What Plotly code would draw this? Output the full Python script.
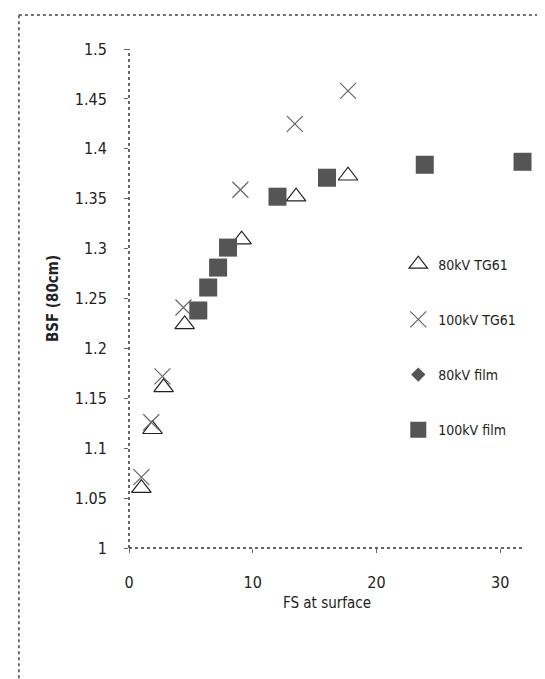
import plotly.graph_objects as go

# Data
tg61_80_x = [1.0, 1.9, 2.8, 4.5, 9.1, 13.5, 17.7]
tg61_80_y = [1.060, 1.119, 1.161, 1.224, 1.309, 1.352, 1.373]

tg61_100_x = [1.0, 1.8, 2.7, 4.4, 9.0, 13.4, 17.7]
tg61_100_y = [1.071, 1.126, 1.172, 1.241, 1.359, 1.425, 1.458]

film_80_x = [5.6, 6.4, 7.2, 8.0]
film_80_y = [1.238, 1.260, 1.280, 1.300]

film_100_x = [5.6, 6.4, 7.2, 8.0, 12.0, 16.0, 23.9, 31.8]
film_100_y = [1.238, 1.261, 1.281, 1.301, 1.352, 1.371, 1.384, 1.387]

x_ticks = [0, 10, 20, 30]
y_ticks = [1, 1.05, 1.1, 1.15, 1.2, 1.25, 1.3, 1.35, 1.4, 1.45, 1.5]
y_ticktext = ["1", "1.05", "1.1", "1.15", "1.2", "1.25", "1.3", "1.35", "1.4", "1.45", "1.5"]

FONT = "DejaVu Sans Condensed, Liberation Sans Narrow, DejaVu Sans, sans-serif"

fig = go.Figure()
fig.add_trace(go.Scatter(
    x=tg61_80_x, y=tg61_80_y, mode="markers", name="80kV TG61",
    legendgroup="a", cliponaxis=False,
    marker=dict(symbol="triangle-up-open", size=17, color="#222222",
                line=dict(width=1.2, color="#222222"))))
fig.add_trace(go.Scatter(
    x=tg61_100_x, y=tg61_100_y, mode="markers", name="100kV TG61",
    legendgroup="b", cliponaxis=False,
    marker=dict(symbol="x-thin-open", size=16, color="#666666",
                line=dict(width=1.2, color="#666666"))))
fig.add_trace(go.Scatter(
    x=film_80_x, y=film_80_y, mode="markers", name="80kV film",
    legendgroup="c", cliponaxis=False,
    marker=dict(symbol="diamond", size=11, color="#555555")))
fig.add_trace(go.Scatter(
    x=film_100_x, y=film_100_y, mode="markers", name="100kV film",
    legendgroup="d", cliponaxis=False,
    marker=dict(symbol="square", size=18, color="#555555")))

# left margin 121, plot right at 517, top 41, bottom 540
fig.update_layout(
    width=545, height=679,
    margin=dict(l=121, r=28, t=41, b=139),
    paper_bgcolor="white", plot_bgcolor="white",
    font=dict(family=FONT, size=16, color="#222222"),
    showlegend=True,
    legend=dict(x=0.68, y=0.60, xanchor="left", yanchor="top",
                font=dict(size=14, family=FONT, color="#222222"),
                tracegroupgap=34, itemwidth=30, bgcolor="rgba(0,0,0,0)"),
    xaxis=dict(range=[0, 32], tickvals=x_ticks, showgrid=False, zeroline=False,
               showline=False, ticks="outside", ticklen=4, tickcolor="#666666",
               ticklabelstandoff=16,
               title=dict(text="FS at surface", font=dict(size=15), standoff=6)),
    yaxis=dict(range=[1, 1.5], tickvals=y_ticks, ticktext=y_ticktext,
               showgrid=False, zeroline=False, showline=False,
               ticks="outside", ticklen=4, tickcolor="#666666",
               ticklabelstandoff=14,
               title=dict(text="<b>BSF (80cm)</b>", font=dict(size=15), standoff=12)),
)

# dotted axis lines
fig.add_shape(type="line", xref="x domain", yref="y domain", x0=0, x1=0, y0=0, y1=1.0,
              line=dict(color="#333333", width=1.5, dash="dot"))
fig.add_shape(type="line", xref="x domain", yref="y domain", x0=0, x1=1, y0=0, y1=0,
              line=dict(color="#333333", width=1.5, dash="dot"))
# dotted outer frame (left and top edges)
fig.add_shape(type="line", xref="paper", yref="paper", x0=-0.278, x1=-0.278, y0=-0.285, y1=1.068,
              line=dict(color="#444444", width=1.5, dash="dot"))
fig.add_shape(type="line", xref="paper", yref="paper", x0=-0.278, x1=1.08, y0=1.068, y1=1.068,
              line=dict(color="#444444", width=1.5, dash="dot"))

fig.write_html("out.html")
